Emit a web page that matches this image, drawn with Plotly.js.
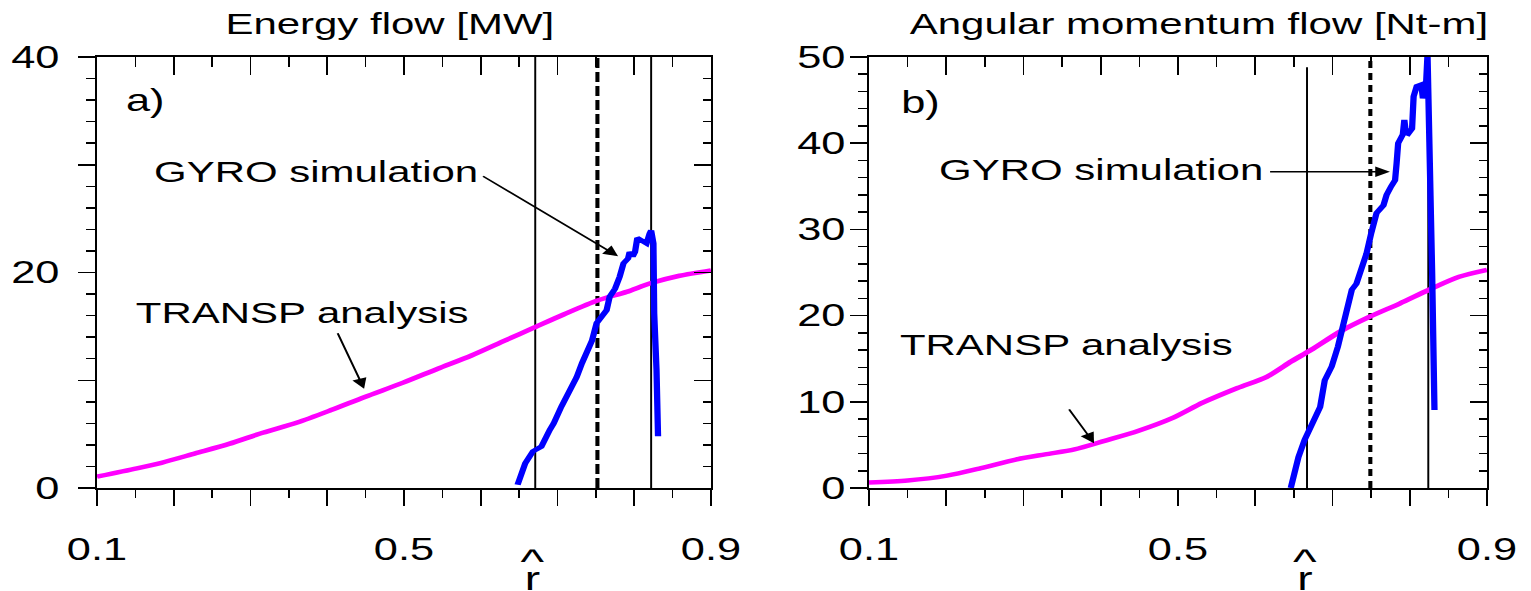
<!DOCTYPE html>
<html>
<head>
<meta charset="utf-8">
<script src="https://cdn.plot.ly/plotly-3.0.1.min.js"></script>
<style>
  html, body { margin: 0; padding: 0; overflow: hidden; background: #fff; }
  #wrap { width: 1531px; height: 591px; overflow: hidden; }
  #chart { width: 1094px; height: 591px; transform: scaleX(1.39945); transform-origin: 0 0; }
</style>
</head>
<body>
<div id="wrap"><div id="chart"></div></div>
<script>
// ---------- data ----------
const energyTranspR = [0.10,0.152,0.184,0.228,0.272,0.316,0.361,0.405,0.449,0.499,0.544,0.588,0.632,0.670,0.708,0.752,0.790,0.821,0.859,0.90];
const energyTranspV = [1.05,1.82,2.34,3.21,4.09,5.13,6.08,7.23,8.45,9.78,11.07,12.3,13.7,14.9,16.1,17.4,18.2,19.0,19.7,20.2];

const energyGyroR = [0.648,0.652,0.658,0.668,0.679,0.690,0.695,0.705,0.714,0.725,0.732,0.739,0.745,0.751,0.758,0.764,0.768,0.775,0.781,0.786,0.792,0.794,0.798,0.801,0.804,0.810,0.816,0.820,0.822,0.825,0.826,0.829,0.831];
const energyGyroV = [0.3,1.0,2.3,3.4,3.85,5.4,6.0,7.55,8.8,10.3,11.6,12.8,13.7,15.3,16.0,16.5,17.75,18.5,19.6,20.85,21.3,21.9,21.5,21.9,23.2,22.9,22.7,23.6,23.9,22.7,16.2,11.0,4.8];

const momTranspR = [0.10,0.150,0.201,0.245,0.290,0.328,0.366,0.405,0.449,0.494,0.532,0.577,0.615,0.647,0.672,0.711,0.749,0.787,0.825,0.864,0.90];
const momTranspV = [0.65,0.87,1.43,2.3,3.3,3.9,4.47,5.47,6.65,8.17,9.9,11.6,12.9,14.7,16.0,18.2,19.9,21.4,23.0,24.5,25.3];

const momGyroR = [0.646,0.649,0.656,0.664,0.675,0.684,0.690,0.699,0.707,0.712,0.718,0.725,0.731,0.736,0.744,0.750,0.757,0.766,0.770,0.776,0.781,0.783,0.785,0.791,0.793,0.795,0.798,0.803,0.805,0.809,0.815,0.817,0.819,0.821,0.823,0.826,0.829,0.832];
const momGyroV = [0,1.3,3.6,5.6,7.5,9.4,12.5,14.1,16.4,18.3,20.6,23.0,23.7,24.9,27.2,29.5,31.9,32.8,34.0,35.0,35.7,37.7,40.0,41.0,42.7,41.2,41.1,41.7,45.4,46.6,46.8,45.2,46.4,46.6,50.3,40.4,24.9,9.05];

// radial positions of the vertical reference lines
const energyLinesR = [0.671, 0.752, 0.822];
const energyLinesTop = [40, 40, 40];
const momLinesR = [0.667, 0.749, 0.824];
const momLinesTop = [48.8, 50, 50];
const lineDashed = [false, true, false];

// tick labels
const xTickVals = [0.1,0.2,0.3,0.4,0.5,0.6,0.7,0.8,0.9];
const xTickText = ['0.1','','','','0.5','','','','0.9'];
const energyTickVals = [0,10,20,30,40];
const energyTickText = ['0','','20','','40'];
const momTickVals = [0,10,20,30,40,50];
const momTickText = ['0','10','20','30','40','50'];

const titles = ['Energy flow [MW]', 'Angular momentum flow [Nt-m]'];
const panelLabels = ['a)', 'b)'];
const curveLabels = ['GYRO simulation', 'TRANSP analysis'];
const xTitleHat = '^';
const xTitleR = 'r';

// ---------- styling ----------
const FONT = 'Liberation Sans, Arial, sans-serif';
const MAGENTA = '#ff00ff';
const BLUE = '#0000ff';

const traces = [
  {x: energyTranspR, y: energyTranspV, xaxis: 'x', yaxis: 'y', mode: 'lines', line: {color: MAGENTA, width: 4.5, shape: 'spline', smoothing: 0.8}, hoverinfo: 'skip'},
  {x: energyGyroR, y: energyGyroV, xaxis: 'x', yaxis: 'y', mode: 'lines', line: {color: BLUE, width: 4.5}, hoverinfo: 'skip'},
  {x: momTranspR, y: momTranspV, xaxis: 'x2', yaxis: 'y2', mode: 'lines', line: {color: MAGENTA, width: 4.5, shape: 'spline', smoothing: 0.8}, hoverinfo: 'skip'},
  {x: momGyroR, y: momGyroV, xaxis: 'x2', yaxis: 'y2', mode: 'lines', line: {color: BLUE, width: 4.5}, hoverinfo: 'skip'},
  // empty traces so the mirrored (top / right) tick axes are drawn
  {x: [], y: [], xaxis: 'x3', yaxis: 'y', mode: 'lines', hoverinfo: 'skip'},
  {x: [], y: [], xaxis: 'x', yaxis: 'y3', mode: 'lines', hoverinfo: 'skip'},
  {x: [], y: [], xaxis: 'x4', yaxis: 'y2', mode: 'lines', hoverinfo: 'skip'},
  {x: [], y: [], xaxis: 'x2', yaxis: 'y4', mode: 'lines', hoverinfo: 'skip'}
];

const shapes = [];
function addLines(rs, tops, xr, yr, dash) {
  rs.forEach((r, i) => {
    shapes.push({
      type: 'line', xref: xr, yref: yr, x0: r, x1: r, y0: 0, y1: tops[i], layer: 'below',
      line: lineDashed[i] ? {color: '#000', width: 2.9, dash: dash} : {color: '#000', width: 1.4}
    });
  });
}
addLines(energyLinesR, energyLinesTop, 'x', 'y', '10px,4px');
addLines(momLinesR, momLinesTop, 'x2', 'y2', '7px,5px');

const W = 1094, S = 1531 / 1094;
const dom = (a, b) => [a / S / W, b / S / W];

function xBottom(domain, anchor) {
  return {
    domain: domain, anchor: anchor, range: [0.1, 0.9], showline: true, linecolor: '#000', linewidth: 1.6,
    showgrid: false, zeroline: false, ticks: 'outside', ticklen: 16, tickwidth: 1.2, tickcolor: '#000',
    tickmode: 'array', tickvals: xTickVals, ticktext: xTickText, ticklabelstandoff: 17,
    tickfont: {family: FONT, size: 31, color: '#000'},
    minor: {ticks: 'outside', ticklen: 8, tickwidth: 1.2, tickcolor: '#000', tickmode: 'linear', tick0: 0.1, dtick: 0.05, showgrid: false},
    fixedrange: true
  };
}
function xTop(over, anchor) {
  return {
    overlaying: over, side: 'top', anchor: anchor, range: [0.1, 0.9], showline: true, linecolor: '#000', linewidth: 1.6,
    showgrid: false, zeroline: false, ticks: 'inside', ticklen: 18, tickwidth: 1.2, tickcolor: '#000',
    tickmode: 'array', tickvals: xTickVals, showticklabels: false,
    minor: {ticks: 'inside', ticklen: 10, tickwidth: 1.2, tickcolor: '#000', tickmode: 'linear', tick0: 0.1, dtick: 0.05, showgrid: false},
    fixedrange: true
  };
}
function yLeft(anchor, range, vals, text, standoff) {
  return {
    domain: [0, 1], anchor: anchor, range: range, showline: true, linecolor: '#000', linewidth: 1.6,
    showgrid: false, zeroline: false, ticks: 'outside', ticklen: 12, tickwidth: 1.5, tickcolor: '#000',
    tickmode: 'array', tickvals: vals, ticktext: text, ticklabelstandoff: standoff,
    tickfont: {family: FONT, size: 31, color: '#000'},
    minor: {ticks: 'outside', ticklen: 6, tickwidth: 1.5, tickcolor: '#000', tickmode: 'linear', tick0: 0, dtick: 2, showgrid: false},
    fixedrange: true
  };
}
function yRight(over, anchor, range, vals) {
  return {
    overlaying: over, side: 'right', anchor: anchor, range: range, showline: true, linecolor: '#000', linewidth: 1.6,
    showgrid: false, zeroline: false, ticks: 'inside', ticklen: 12, tickwidth: 1.5, tickcolor: '#000',
    tickmode: 'array', tickvals: vals, showticklabels: false,
    minor: {ticks: 'inside', ticklen: 6, tickwidth: 1.5, tickcolor: '#000', tickmode: 'linear', tick0: 0, dtick: 2, showgrid: false},
    fixedrange: true
  };
}

const txt = (size) => ({family: FONT, size: size, color: '#000'});
const hatText = '<span style="font-size:36px">' + xTitleHat + '</span><br><span style="font-size:33px">' + xTitleR + '</span>';
const annotations = [
  // titles
  {xref: 'paper', yref: 'paper', x: dom(390, 0)[0], y: 1.077, text: titles[0], showarrow: false, font: txt(30), xanchor: 'center', yanchor: 'middle'},
  {xref: 'paper', yref: 'paper', x: dom(1199, 0)[0], y: 1.077, text: titles[1], showarrow: false, font: txt(30), xanchor: 'center', yanchor: 'middle'},
  // panel labels
  {xref: 'x', yref: 'y', x: 0.164, y: 36.0, text: panelLabels[0], showarrow: false, font: txt(31)},
  {xref: 'x2', yref: 'y2', x: 0.1667, y: 44.7, text: panelLabels[1], showarrow: false, font: txt(31)},
  // curve labels
  {xref: 'x', yref: 'y', x: 0.385, y: 29.4, text: curveLabels[0], showarrow: false, font: txt(30)},
  {xref: 'x', yref: 'y', x: 0.367, y: 16.3, text: curveLabels[1], showarrow: false, font: txt(30)},
  {xref: 'x2', yref: 'y2', x: 0.4016, y: 36.9, text: curveLabels[0], showarrow: false, font: txt(30)},
  {xref: 'x2', yref: 'y2', x: 0.355, y: 16.6, text: curveLabels[1], showarrow: false, font: txt(30)},
  // arrows
  {xref: 'x', yref: 'y', x: 0.779, y: 21.5, axref: 'x', ayref: 'y', ax: 0.6003, ay: 29.05, text: '', showarrow: true, arrowhead: 2, arrowsize: 1.4, arrowwidth: 1.5, arrowcolor: '#000', standoff: 0},
  {xref: 'x', yref: 'y', x: 0.448, y: 9.2, axref: 'x', ayref: 'y', ax: 0.4127, ay: 14.5, text: '', showarrow: true, arrowhead: 2, arrowsize: 1.4, arrowwidth: 1.5, arrowcolor: '#000', standoff: 0},
  {xref: 'x2', yref: 'y2', x: 0.7744, y: 36.7, axref: 'x2', ayref: 'y2', ax: 0.6165, ay: 36.7, text: '', showarrow: true, arrowhead: 2, arrowsize: 1.4, arrowwidth: 1.5, arrowcolor: '#000', standoff: 0},
  {xref: 'x2', yref: 'y2', x: 0.3913, y: 5.2, axref: 'x2', ayref: 'y2', ax: 0.3576, ay: 9.3, text: '', showarrow: true, arrowhead: 2, arrowsize: 1.4, arrowwidth: 1.5, arrowcolor: '#000', standoff: 0},
  // x-axis titles (r hat)
  {xref: 'x', yref: 'paper', x: 0.668, y: -0.188, text: hatText, showarrow: false, font: txt(12), yanchor: 'middle'},
  {xref: 'x2', yref: 'paper', x: 0.6644, y: -0.188, text: hatText, showarrow: false, font: txt(12), yanchor: 'middle'}
];

const layout = {
  width: 1094, height: 591,
  margin: {l: 0, r: 0, t: 57, b: 103, pad: 0},
  paper_bgcolor: '#fff', plot_bgcolor: '#fff',
  showlegend: false,
  font: {family: FONT, color: '#000'},
  xaxis: xBottom(dom(97, 711), 'y'),
  yaxis: yLeft('x', [0, 40], energyTickVals, energyTickText, 7),
  xaxis2: xBottom(dom(869, 1487), 'y2'),
  yaxis2: yLeft('x2', [0, 50], momTickVals, momTickText, -3),
  xaxis3: xTop('x', 'y'),
  yaxis3: yRight('y', 'x', [0, 40], energyTickVals),
  xaxis4: xTop('x2', 'y2'),
  yaxis4: yRight('y2', 'x2', [0, 50], momTickVals),
  shapes: shapes,
  annotations: annotations
};

Plotly.newPlot('chart', traces, layout, {displayModeBar: false, staticPlot: true});
</script>
</body>
</html>
